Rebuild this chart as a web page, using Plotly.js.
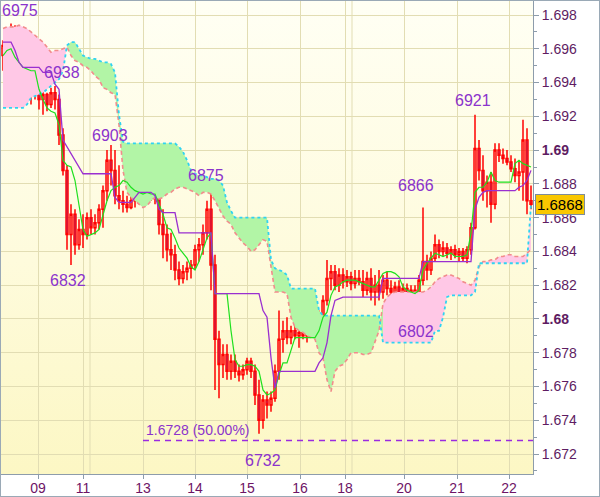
<!DOCTYPE html>
<html>
<head>
<meta charset="utf-8">
<script src="https://cdn.plot.ly/plotly-3.0.1.min.js"></script>
<style>
  html, body { margin: 0; padding: 0; background: #ffffff; }
  #wrap { position: relative; width: 600px; height: 497px; }
  #chart {
    width: 600px; height: 497px;
    background: linear-gradient(to bottom, #fffff4 0%, #fefbdc 55%, #fcf7c4 100%) 1px 0 / 532px 474px no-repeat, #ffffff;
  }
  #frame {
    position: absolute; left: 0; top: 0; width: 600px; height: 497px;
    box-sizing: border-box; border: 1px solid #9aa9b6; pointer-events: none;
  }
</style>
</head>
<body>
<div id="wrap"><div id="chart"></div><div id="frame"></div></div>
<script>
// ---------- data ----------
const open = [1.6956,1.6962,1.6956,1.6971,1.6953,1.6962,1.6942,1.6947,1.6933,1.6939,
1.6930,1.6933,1.6927,1.6934,1.6930,1.6909,1.6888,1.6850,1.6862,1.6844,
1.6853,1.6850,1.6860,1.6854,1.6857,1.6865,1.6876,1.6894,1.6888,1.6873,
1.6870,1.6868,1.6866,1.6870,1.6873,1.6876,1.6879,1.6875,1.6880,1.6873,
1.6856,1.6850,1.6841,1.6838,1.6829,1.6824,1.6828,1.6830,1.6832,1.6841,
1.6844,1.6851,1.6865,1.6832,1.6788,1.6773,1.6779,1.6769,1.6775,1.6769,
1.6767,1.6770,1.6775,1.6769,1.6755,1.6740,1.6752,1.6749,1.6753,1.6769,
1.6788,1.6793,1.6789,1.6793,1.6790,1.6792,1.6790,1.6793,1.6791,1.6795,
1.6801,1.6811,1.6824,1.6828,1.6820,1.6826,1.6822,1.6825,1.6821,1.6824,
1.6822,1.6817,1.6824,1.6816,1.6820,1.6816,1.6823,1.6818,1.6816,1.6819,
1.6814,1.6818,1.6814,1.6817,1.6811,1.6823,1.6834,1.6829,1.6836,1.6844,
1.6840,1.6842,1.6839,1.6841,1.6838,1.6840,1.6836,1.6841,1.6854,1.6901,
1.6888,1.6876,1.6881,1.6868,1.6900,1.6897,1.6895,1.6893,1.6889,1.6885,
1.6887,1.6906,1.6870];

const high = [1.6965,1.6968,1.6975,1.6974,1.6966,1.6965,1.6950,1.6953,1.6942,1.6942,
1.6936,1.6934,1.6937,1.6938,1.6933,1.6913,1.6891,1.6868,1.6865,1.6859,
1.6862,1.6863,1.6865,1.6862,1.6868,1.6879,1.6900,1.6903,1.6900,1.6891,
1.6876,1.6873,1.6873,1.6876,1.6879,1.6883,1.6882,1.6883,1.6883,1.6878,
1.6865,1.6856,1.6851,1.6844,1.6834,1.6832,1.6834,1.6835,1.6844,1.6848,
1.6856,1.6870,1.6875,1.6838,1.6793,1.6785,1.6785,1.6779,1.6779,1.6773,
1.6773,1.6777,1.6777,1.6773,1.6764,1.6755,1.6757,1.6757,1.6773,1.6805,
1.6799,1.6801,1.6796,1.6798,1.6796,1.6796,1.6795,1.6798,1.6796,1.6805,
1.6814,1.6835,1.6832,1.6832,1.6830,1.6830,1.6829,1.6828,1.6829,1.6829,
1.6829,1.6828,1.6830,1.6826,1.6829,1.6826,1.6828,1.6823,1.6822,1.6823,
1.6821,1.6821,1.6820,1.6820,1.6826,1.6866,1.6838,1.6840,1.6850,1.6847,
1.6846,1.6845,1.6843,1.6844,1.6842,1.6842,1.6843,1.6857,1.6921,1.6906,
1.6897,1.6885,1.6887,1.6904,1.6904,1.6901,1.6900,1.6897,1.6895,1.6894,
1.6918,1.6913,1.6879];

const low = [1.6947,1.6953,1.6950,1.6934,1.6944,1.6936,1.6930,1.6927,1.6930,1.6924,
1.6921,1.6923,1.6925,1.6924,1.6903,1.6885,1.6841,1.6832,1.6838,1.6841,
1.6842,1.6847,1.6850,1.6850,1.6853,1.6854,1.6870,1.6879,1.6868,1.6865,
1.6863,1.6863,1.6865,1.6866,1.6868,1.6870,1.6872,1.6870,1.6868,1.6850,
1.6836,1.6834,1.6829,1.6823,1.6820,1.6821,1.6823,1.6824,1.6829,1.6834,
1.6838,1.6847,1.6817,1.6758,1.6753,1.6765,1.6764,1.6764,1.6765,1.6763,
1.6764,1.6767,1.6765,1.6749,1.6732,1.6735,1.6741,1.6745,1.6751,1.6764,
1.6780,1.6785,1.6785,1.6788,1.6783,1.6788,1.6786,1.6789,1.6788,1.6785,
1.6780,1.6808,1.6817,1.6817,1.6816,1.6818,1.6819,1.6817,1.6818,1.6820,
1.6813,1.6814,1.6811,1.6808,1.6811,1.6812,1.6814,1.6813,1.6812,1.6811,
1.6810,1.6811,1.6810,1.6804,1.6802,1.6820,1.6823,1.6826,1.6834,1.6836,
1.6837,1.6836,1.6835,1.6836,1.6834,1.6834,1.6833,1.6838,1.6853,1.6882,
1.6870,1.6866,1.6857,1.6865,1.6893,1.6892,1.6891,1.6887,1.6881,1.6876,
1.6870,1.6862,1.6865];

const close = [1.6962,1.6956,1.6971,1.6953,1.6962,1.6942,1.6947,1.6933,1.6939,1.6930,
1.6933,1.6927,1.6934,1.6930,1.6909,1.6888,1.6850,1.6862,1.6844,1.6853,
1.6850,1.6860,1.6854,1.6857,1.6865,1.6876,1.6894,1.6888,1.6873,1.6870,
1.6868,1.6866,1.6870,1.6873,1.6876,1.6879,1.6875,1.6880,1.6873,1.6856,
1.6850,1.6841,1.6838,1.6829,1.6824,1.6828,1.6830,1.6832,1.6841,1.6844,
1.6851,1.6865,1.6832,1.6788,1.6773,1.6779,1.6769,1.6775,1.6769,1.6767,
1.6770,1.6775,1.6769,1.6755,1.6740,1.6752,1.6749,1.6753,1.6769,1.6788,
1.6793,1.6789,1.6793,1.6790,1.6792,1.6790,1.6793,1.6791,1.6795,1.6801,
1.6811,1.6824,1.6828,1.6820,1.6826,1.6822,1.6825,1.6821,1.6824,1.6822,
1.6817,1.6824,1.6816,1.6820,1.6816,1.6823,1.6818,1.6816,1.6819,1.6814,
1.6818,1.6814,1.6817,1.6811,1.6823,1.6834,1.6829,1.6836,1.6844,1.6840,
1.6842,1.6839,1.6841,1.6838,1.6840,1.6836,1.6841,1.6854,1.6901,1.6888,
1.6876,1.6881,1.6868,1.6900,1.6897,1.6895,1.6893,1.6889,1.6885,1.6887,
1.6906,1.6870,1.6868];

// Ichimoku: Tenkan (green), Kijun (purple), Senkou span A (cyan), span B (salmon)
const tenkan = [1.6956,1.6959,1.6960,1.6955,1.6952,1.6949,1.6948,1.6947,1.6947,1.6936,
1.6930,1.6925,1.6923,1.6922,1.6915,1.6894,1.6891,1.6890,1.6882,1.6868,
1.6853,1.6849,1.6850,1.6851,1.6853,1.6862,1.6870,1.6876,1.6878,1.6879,
1.6882,1.6881,1.6878,1.6876,1.6875,1.6874,1.6875,1.6874,1.6874,1.6868,
1.6862,1.6854,1.6853,1.6848,1.6842,1.6839,1.6836,1.6831,1.6829,1.6834,
1.6841,1.6848,1.6851,1.6815,1.6815,1.6815,1.6815,1.6793,1.6776,1.6772,
1.6772,1.6773,1.6773,1.6772,1.6769,1.6758,1.6755,1.6756,1.6758,1.6767,
1.6774,1.6774,1.6782,1.6789,1.6789,1.6789,1.6789,1.6789,1.6789,1.6793,
1.6801,1.6804,1.6814,1.6819,1.6820,1.6822,1.6823,1.6823,1.6823,1.6822,
1.6821,1.6820,1.6819,1.6819,1.6823,1.6827,1.6828,1.6828,1.6827,1.6825,
1.6819,1.6817,1.6816,1.6815,1.6817,1.6829,1.6833,1.6836,1.6839,1.6838,
1.6837,1.6838,1.6839,1.6837,1.6837,1.6837,1.6838,1.6851,1.6875,1.6878,
1.6878,1.6881,1.6887,1.6882,1.6881,1.6881,1.6881,1.6881,1.6892,1.6894,
1.6892,1.6891,1.6890];

const kijun = [1.6964,1.6964,1.6964,1.6959,1.6952,1.6949,1.6949,1.6949,1.6949,1.6949,
1.6946,1.6946,1.6946,1.6939,1.6936,1.6906,1.6902,1.6898,1.6894,1.6890,
1.6886,1.6886,1.6886,1.6886,1.6886,1.6886,1.6886,1.6886,1.6872,1.6869,
1.6869,1.6869,1.6869,1.6872,1.6875,1.6875,1.6875,1.6875,1.6873,1.6865,
1.6863,1.6863,1.6863,1.6863,1.6851,1.6851,1.6851,1.6851,1.6851,1.6851,
1.6851,1.6851,1.6851,1.6815,1.6815,1.6815,1.6815,1.6815,1.6815,1.6815,
1.6815,1.6815,1.6815,1.6815,1.6815,1.6805,1.6801,1.6777,1.6759,1.6769,
1.6769,1.6769,1.6769,1.6769,1.6769,1.6769,1.6769,1.6769,1.6769,1.6774,
1.6777,1.6786,1.6802,1.6811,1.6812,1.6813,1.6813,1.6813,1.6813,1.6813,
1.6813,1.6813,1.6813,1.6813,1.6813,1.6824,1.6824,1.6824,1.6824,1.6824,
1.6824,1.6824,1.6824,1.6824,1.6824,1.6834,1.6834,1.6834,1.6834,1.6834,
1.6834,1.6834,1.6834,1.6834,1.6834,1.6834,1.6834,1.6834,1.6865,1.6872,
1.6875,1.6876,1.6876,1.6876,1.6876,1.6876,1.6876,1.6876,1.6876,1.6878,
1.6879,1.6882,1.6888];

const spanA = [1.6925,1.6925,1.6925,1.6925,1.6925,1.6925,1.6927,1.6931,1.6932,1.6933,
1.6934,1.6936,1.6938,1.6940,1.6942,1.6947,1.6962,1.6964,1.6964,1.6960,
1.6956,1.6955,1.6954,1.6954,1.6953,1.6952,1.6952,1.6951,1.6946,1.6921,
1.6905,1.6904,1.6904,1.6904,1.6904,1.6904,1.6904,1.6904,1.6904,1.6904,
1.6904,1.6904,1.6904,1.6904,1.6902,1.6899,1.6894,1.6888,1.6886,1.6885,
1.6885,1.6884,1.6883,1.6883,1.6882,1.6879,1.6869,1.6864,1.6860,1.6860,
1.6860,1.6860,1.6860,1.6860,1.6860,1.6860,1.6860,1.6835,1.6830,1.6829,
1.6828,1.6826,1.6818,1.6818,1.6818,1.6818,1.6818,1.6818,1.6818,1.6805,
1.6802,1.6802,1.6802,1.6802,1.6802,1.6802,1.6802,1.6802,1.6802,1.6802,
1.6802,1.6802,1.6802,1.6802,1.6802,1.6786,1.6786,1.6786,1.6786,1.6786,
1.6786,1.6786,1.6786,1.6786,1.6786,1.6786,1.6786,1.6786,1.6793,1.6793,
1.6801,1.6813,1.6814,1.6814,1.6814,1.6814,1.6814,1.6814,1.6816,1.6833,
1.6833,1.6833,1.6833,1.6833,1.6833,1.6833,1.6833,1.6833,1.6833,1.6833,
1.6833,1.6833,1.6868];

const spanB = [1.6972,1.6973,1.6973,1.6973,1.6974,1.6973,1.6972,1.6970,1.6968,1.6966,
1.6964,1.6961,1.6958,1.6959,1.6959,1.6960,1.6961,1.6956,1.6953,1.6952,
1.6950,1.6949,1.6947,1.6944,1.6942,1.6937,1.6936,1.6934,1.6933,1.6915,
1.6888,1.6875,1.6872,1.6870,1.6868,1.6866,1.6867,1.6870,1.6872,1.6871,
1.6872,1.6874,1.6875,1.6877,1.6878,1.6878,1.6877,1.6876,1.6875,1.6873,
1.6875,1.6875,1.6874,1.6870,1.6865,1.6861,1.6858,1.6856,1.6851,1.6848,
1.6845,1.6843,1.6840,1.6841,1.6844,1.6847,1.6846,1.6830,1.6816,1.6816,
1.6816,1.6815,1.6801,1.6795,1.6793,1.6792,1.6790,1.6789,1.6788,1.6780,
1.6777,1.6764,1.6757,1.6769,1.6772,1.6773,1.6776,1.6780,1.6780,1.6780,
1.6779,1.6779,1.6780,1.6786,1.6793,1.6809,1.6813,1.6815,1.6816,1.6816,
1.6816,1.6816,1.6816,1.6816,1.6816,1.6816,1.6817,1.6819,1.6822,1.6824,
1.6825,1.6826,1.6826,1.6825,1.6824,1.6822,1.6821,1.6820,1.6823,1.6831,
1.6834,1.6834,1.6835,1.6835,1.6837,1.6837,1.6838,1.6838,1.6837,1.6837,
1.6837,1.6839,1.6841];

// axis ticks
const dayTickIdx  = [8.75, 20, 35, 48, 61, 74.25, 85.5, 100.25, 113.5, 126.5];
const dayTickText = ['09','11','13','14','15','16','18','20','21','22'];
const weekGridIdx = [21.75, 87.25];
const yTickVals = [1.672,1.674,1.676,1.678,1.680,1.682,1.684,1.686,1.688,1.690,1.692,1.694,1.696,1.698];
const yTickText = ['1.672','1.674','1.676','1.678','<b>1.68</b>','1.682','1.684','1.686','1.688','<b>1.69</b>','1.692','1.694','1.696','1.698'];

// extremes labels
const extremeText  = ['6975','6938','6903','6875','6832','6732','6866','6802','6921'];
const fibLevel = 1.6728;
const fibText = '1.6728 (50.00%)';
const lastPrice = 1.6868;

// ---------- drawing ----------
const FONT = 'Liberation Sans, Arial, sans-serif';
const GRID = '#e2ddb3';
const AX = '#8d9cab';
const LABEL = '#8b33cc';
const N = close.length;
const idx = Array.from({length: N}, (_, i) => i);

const traces = [];
const up = i => spanA[i] >= spanB[i];
let s = 0;
for (let i = 1; i <= N; i++) {
  if (i === N || up(i) !== up(s)) {
    const e = Math.min(i, N - 1);
    const xs = idx.slice(s, e + 1);
    traces.push({type:'scatter', x: xs, y: spanB.slice(s, e + 1), mode:'lines',
      line:{width:0, color:'rgba(0,0,0,0)'}, hoverinfo:'skip'});
    traces.push({type:'scatter', x: xs, y: spanA.slice(s, e + 1), mode:'lines',
      line:{width:0, color:'rgba(0,0,0,0)'}, fill:'tonexty',
      fillcolor: up(s) ? '#b2f5a6' : '#ffc8e6', hoverinfo:'skip'});
    s = i;
  }
}
traces.push({type:'scatter', x: idx, y: spanB, mode:'lines',
  line:{color:'#f28c8c', width:1.6, dash:'4px,3px'}, hoverinfo:'skip'});
traces.push({type:'scatter', x: idx, y: spanA, mode:'lines',
  line:{color:'#2fd3f2', width:1.8, dash:'3px,3px'}, hoverinfo:'skip'});

traces.push({type:'candlestick', x: idx, open: open, high: high, low: low, close: close,
  increasing:{line:{color:'#ff0000', width:1.5}, fillcolor:'rgba(255,255,255,0)'},
  decreasing:{line:{color:'#ff0000', width:1.5}, fillcolor:'#7b4fc4'},
  whiskerwidth:0, hoverinfo:'skip'});

traces.push({type:'scatter', x: idx, y: tenkan, mode:'lines',
  line:{color:'#1ee01e', width:1.2}, hoverinfo:'skip'});
traces.push({type:'scatter', x: idx, y: kijun, mode:'lines',
  line:{color:'#9a2fd0', width:1.3}, hoverinfo:'skip'});

// label positions (bar index, price)
const labelPos = [[4.25,1.69824],[14.75,1.69457],[26.75,1.69089],[50.75,1.68852],
  [16.25,1.68225],[65,1.67164],[103.25,1.68793],[103.25,1.67923],[117.5,1.69291]];

const annotations = extremeText.map((t, k) => ({
  x: labelPos[k][0], y: labelPos[k][1], xref:'x', yref:'y', text: t, showarrow:false,
  font:{family: FONT, size:16, color: LABEL}, xanchor:'center', yanchor:'middle'
}));
annotations.push({x: 35.3, y: fibLevel, xref:'x', yref:'y', text: fibText, showarrow:false,
  xanchor:'left', yanchor:'bottom', yshift:1, font:{family: FONT, size:14, color: LABEL}});
annotations.push({x: 1, xref:'paper', y: lastPrice, yref:'y', text: lastPrice.toFixed(4),
  showarrow:false, xanchor:'left', yanchor:'middle', xshift:2,
  bgcolor:'#f9c700', bordercolor:'#7d8c9c', borderwidth:1, borderpad:1,
  font:{family: FONT, size:15, color:'#000000'}});

const shapes = [{type:'line', xref:'x', yref:'y', x0: 35, x1: 132.5, y0: fibLevel, y1: fibLevel,
  line:{color:'#9a2be0', width:1.5, dash:'6px,5px'}}];
weekGridIdx.forEach(v => shapes.push({type:'line', xref:'x', yref:'paper', x0:v, x1:v, y0:0, y1:1,
  line:{color: GRID, width:1}, layer:'below'}));

const layout = {
  width:600, height:497,
  margin:{l:1, r:67, t:0, b:23},
  paper_bgcolor:'rgba(0,0,0,0)', plot_bgcolor:'rgba(0,0,0,0)',
  showlegend:false,
  font:{family: FONT},
  xaxis:{range:[-0.5,132.5], tickmode:'array', tickvals: dayTickIdx, ticktext: dayTickText,
    showgrid:true, gridcolor: GRID, gridwidth:1, ticks:'outside', ticklen:4, tickcolor: AX,
    showline:true, linecolor: AX, linewidth:1, zeroline:false, rangeslider:{visible:false},
    ticklabelstandoff:-3,
    tickfont:{family: FONT, size:14, color:'#6e1466'}, fixedrange:true},
  yaxis:{side:'right', range:[1.67082,1.69889], tickmode:'array', tickvals: yTickVals, ticktext: yTickText,
    showgrid:true, gridcolor: GRID, gridwidth:1, ticks:'outside', ticklen:5, tickcolor: AX,
    showline:true, linecolor: AX, linewidth:1, zeroline:false,
    minor:{tickmode:'linear', tick0:1.671, dtick:0.002, ticks:'outside', ticklen:3, tickcolor: AX, showgrid:false},
    tickfont:{family: FONT, size:14, color:'#5e1c62'}, fixedrange:true},
  shapes: shapes,
  annotations: annotations
};

Plotly.newPlot('chart', traces, layout, {staticPlot:true, displayModeBar:false});
</script>
</body>
</html>
